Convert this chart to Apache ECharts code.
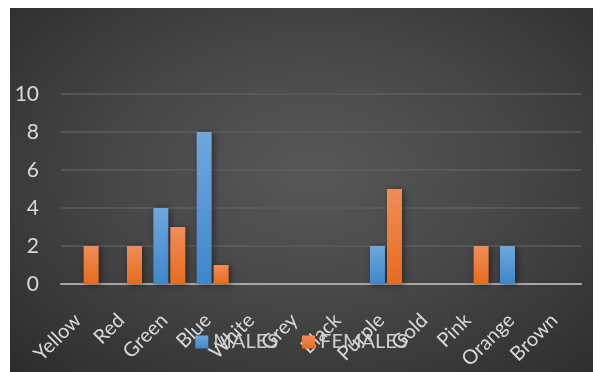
<!DOCTYPE html>
<html>
<head>
<meta charset="utf-8">
<script src="https://cdn.jsdelivr.net/npm/echarts@6/dist/echarts.min.js"></script>
<style>
html,body{margin:0;padding:0;background:#fff;width:605px;height:372px;overflow:hidden;}
#wrap{position:absolute;left:10px;top:8px;width:583px;height:364px;
background:radial-gradient(ellipse at 52% 45%, #585858 0%, #474747 45%, #2c2c2c 100%);}
#chart{width:583px;height:364px;}
</style>
</head>
<body>
<div id="wrap"><div id="chart"></div></div>
<script>
const categories = ["Yellow","Red","Green","Blue","White","Grey","Black","Purple","Gold","Pink","Orange","Brown"];
const males   = [0,0,4,8,0,0,0,2,0,0,2,0];
const females = [2,2,3,1,0,0,0,5,0,2,0,0];
const yTicks = [0,2,4,6,8,10];

const chart = echarts.init(document.getElementById('chart'));
const font = 'Lato, "Open Sans", sans-serif';
function grad(top, bottom){
  return new echarts.graphic.LinearGradient(0,0,0,1,[{offset:0,color:top},{offset:1,color:bottom}]);
}
chart.setOption({
  backgroundColor: 'transparent',
  animation: false,
  grid: {left: 51, right: 12, top: 86, bottom: 87, containLabel: false},
  legend: {
    data: ['MALES','FEMALES'],
    left: 'center', top: 319,
    itemWidth: 13, itemHeight: 13, itemGap: 24,
    icon: 'rect',
    textStyle: {color: '#cfcfcf', fontSize: 20, fontFamily: font}
  },
  xAxis: {
    type: 'category',
    data: categories,
    axisLine: {lineStyle: {color: '#a6a6a6', width: 2}},
    axisTick: {show: false},
    axisLabel: {rotate: 45, color: '#d9d9d9', fontSize: 20, fontFamily: font, margin: 28,
      padding: [0, 7, 0, 0], interval: 0}
  },
  yAxis: {
    type: 'value', min: 0, max: 10, interval: 2,
    axisLine: {show: false}, axisTick: {show: false},
    splitLine: {lineStyle: {color: '#5e5e5e', width: 1.5}},
    axisLabel: {color: '#d9d9d9', fontSize: 21, fontFamily: font, margin: 22,
      formatter: v => yTicks.includes(v) ? String(v) : ''}
  },
  series: [
    {name: 'MALES', type: 'bar', data: males, barWidth: 15, barGap: '13%',
     itemStyle: {color: grad('#6fa7dd', '#3f87cb'), shadowColor: 'rgba(0,0,0,0.45)', shadowBlur: 6, shadowOffsetX: 2, shadowOffsetY: 1}},
    {name: 'FEMALES', type: 'bar', data: females, barWidth: 15,
     itemStyle: {color: grad('#f08d58', '#e66c1d'), shadowColor: 'rgba(0,0,0,0.45)', shadowBlur: 6, shadowOffsetX: 2, shadowOffsetY: 1}}
  ]
});
</script>
</body>
</html>
